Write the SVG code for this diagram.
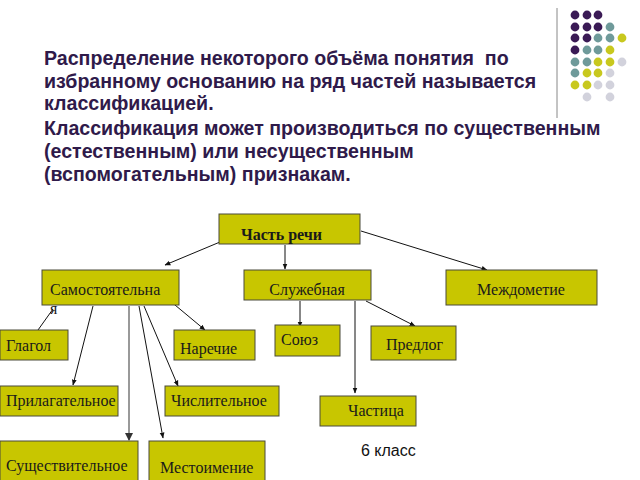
<svg xmlns="http://www.w3.org/2000/svg" width="640" height="480" viewBox="0 0 640 480">
<style>
.t{font-family:"Liberation Sans",Arial,sans-serif;font-weight:bold;font-size:19.6px;fill:#2f1a4a;white-space:pre}
.box{fill:#c8c600;stroke:#4a4a3a;stroke-width:1}
.lb{font-family:"Liberation Serif","Times New Roman",serif;font-size:16px;fill:#1a1a1a}
.c{stroke:#111;stroke-width:1;fill:none}
circle{r:4.4px}
.p{fill:#3a1a55}.g{fill:#6f9a9a}.y{fill:#c8c81e}.w{fill:#d2d2dc}
</style>
<defs>
<marker id="ah" viewBox="0 0 10 10" refX="9" refY="5" markerWidth="6" markerHeight="6" orient="auto">
<path d="M0,1 L10,5 L0,9 z" fill="#111"/>
</marker>
</defs>
<rect width="640" height="480" fill="#fff"/>
<g id="decor">
<line x1="557" y1="8" x2="557" y2="118" stroke="#888" stroke-width="1"/>
<g>
<circle class="p" cx="575" cy="15" r="4.4"/><circle class="p" cx="587" cy="15" r="4.4"/><circle class="p" cx="598" cy="15" r="4.4"/>
<circle class="p" cx="575" cy="27" r="4.4"/><circle class="p" cx="587" cy="27" r="4.4"/><circle class="p" cx="598" cy="27" r="4.4"/><circle class="g" cx="610" cy="27" r="4.4"/>
<circle class="p" cx="575" cy="38" r="4.4"/><circle class="p" cx="587" cy="38" r="4.4"/><circle class="g" cx="598" cy="38" r="4.4"/><circle class="g" cx="610" cy="38" r="4.4"/><circle class="y" cx="622" cy="38" r="4.4"/>
<circle class="p" cx="575" cy="50" r="4.4"/><circle class="g" cx="587" cy="50" r="4.4"/><circle class="g" cx="598" cy="50" r="4.4"/><circle class="y" cx="610" cy="50" r="4.4"/>
<circle class="g" cx="575" cy="62" r="4.4"/><circle class="g" cx="587" cy="62" r="4.4"/><circle class="y" cx="598" cy="62" r="4.4"/><circle class="y" cx="610" cy="62" r="4.4"/><circle class="w" cx="622" cy="62" r="4.4"/>
<circle class="g" cx="575" cy="73" r="4.4"/><circle class="y" cx="587" cy="73" r="4.4"/><circle class="y" cx="598" cy="73" r="4.4"/><circle class="w" cx="610" cy="73" r="4.4"/>
<circle class="y" cx="575" cy="85" r="4.4"/><circle class="y" cx="587" cy="85" r="4.4"/><circle class="w" cx="598" cy="85" r="4.4"/><circle class="w" cx="610" cy="85" r="4.4"/>
<circle class="w" cx="587" cy="97" r="4.4"/><circle class="w" cx="610" cy="97" r="4.4"/>
</g>
</g>
<g id="title">
<text class="t" x="44" y="65">Распределение некоторого объёма понятия  по</text>
<text class="t" x="44" y="88">избранному основанию на ряд частей называется</text>
<text class="t" x="44" y="110">классификацией.</text>
<text class="t" x="44" y="135">Классификация может производиться по существенным</text>
<text class="t" x="44" y="158">(естественным) или несущественным</text>
<text class="t" x="44" y="181">(вспомогательным) признакам.</text>
</g>
<g id="connectors">
<line class="c" x1="220" y1="242" x2="165" y2="265" marker-end="url(#ah)"/>
<line class="c" x1="285" y1="245" x2="285" y2="269" stroke="#555" marker-end="url(#ah)"/>
<line class="c" x1="361" y1="231" x2="487" y2="270" marker-end="url(#ah)"/>
<line class="c" x1="53" y1="309" x2="38" y2="330"/>
<line class="c" x1="93" y1="306" x2="73" y2="385" marker-end="url(#ah)"/>
<line x1="129" y1="306" x2="129" y2="440" stroke="#999" stroke-width="2"/>
<path d="M125,433 L129,441 L133,433 z" fill="#333"/>
<line class="c" x1="139" y1="306" x2="163" y2="438" marker-end="url(#ah)"/>
<line class="c" x1="144" y1="306" x2="178" y2="386" marker-end="url(#ah)"/>
<line class="c" x1="169" y1="300" x2="205" y2="330" marker-end="url(#ah)"/>
<line class="c" x1="300" y1="301" x2="300" y2="327" marker-end="url(#ah)"/>
<line class="c" x1="355" y1="301" x2="355" y2="393" marker-end="url(#ah)"/>
<line class="c" x1="366" y1="301" x2="415" y2="326" marker-end="url(#ah)"/>
</g>
<g id="n-chast"><rect class="box" x="219" y="214" width="141" height="30"/><text class="lb" x="241" y="240" font-weight="bold" font-size="19">Часть речи</text></g>
<g id="n-samost"><rect class="box" x="42" y="270" width="137" height="35"/><text class="lb" x="50" y="295">Самостоятельна</text><text class="lb" x="50" y="314" font-size="12">я</text></g>
<g id="n-sluzh"><rect class="box" x="244" y="270" width="127" height="30"/><text class="lb" x="307" y="295" text-anchor="middle">Служебная</text></g>
<g id="n-mezhd"><rect class="box" x="446" y="270" width="151" height="35"/><text class="lb" x="521" y="295" text-anchor="middle">Междометие</text></g>
<g id="n-glagol"><rect class="box" x="0" y="330" width="68" height="30"/><text class="lb" x="6" y="351">Глагол</text></g>
<g id="n-narech"><rect class="box" x="174" y="330" width="81" height="30"/><text class="lb" x="180" y="354">Наречие</text></g>
<g id="n-soyuz"><rect class="box" x="275" y="325" width="65" height="31"/><text class="lb" x="281" y="345">Союз</text></g>
<g id="n-predlog"><rect class="box" x="371" y="326" width="85" height="34"/><text class="lb" x="386" y="350">Предлог</text></g>
<g id="n-prilag"><rect class="box" x="0" y="386" width="118" height="30"/><text class="lb" x="6" y="406">Прилагательное</text></g>
<g id="n-chisl"><rect class="box" x="165" y="386" width="114" height="30"/><text class="lb" x="171" y="406">Числительное</text></g>
<g id="n-chastica"><rect class="box" x="320" y="396" width="96" height="30"/><text class="lb" x="348" y="416">Частица</text></g>
<g id="n-sushch"><rect class="box" x="0" y="441" width="138" height="42"/><text class="lb" x="6" y="471">Существительное</text></g>
<g id="n-mest"><rect class="box" x="149" y="441" width="116" height="42"/><text class="lb" x="160" y="473">Местоимение</text></g>
<text x="361" y="456" font-family="'Liberation Sans',Arial,sans-serif" font-size="16" fill="#111">6 класс</text>
</svg>
